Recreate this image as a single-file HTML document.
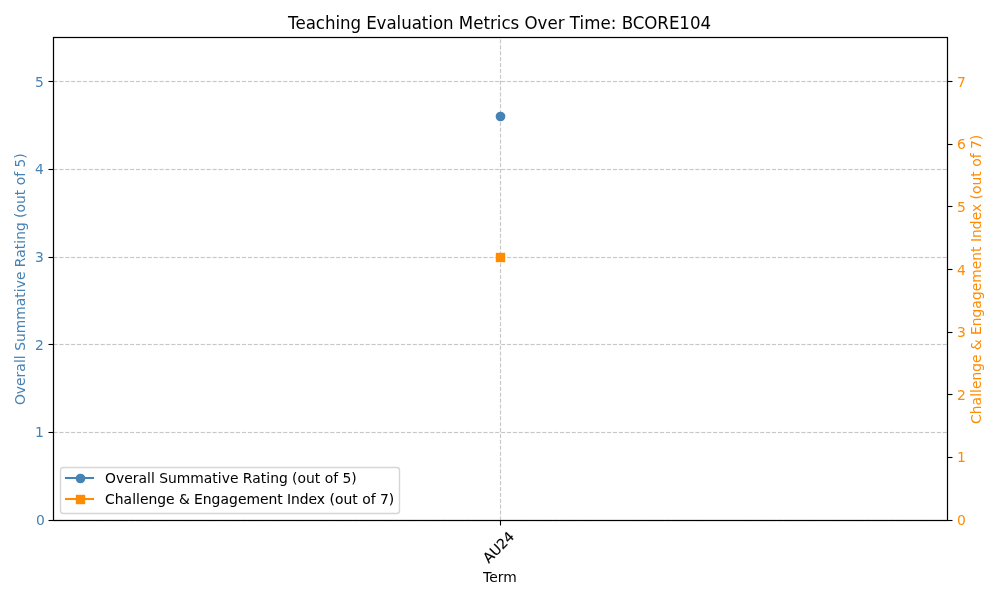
<!DOCTYPE html>
<html lang="en">
<head>
<meta charset="utf-8">
<title>Teaching Evaluation Metrics Over Time: BCORE104</title>
<style>
html,body{margin:0;padding:0;background:#fff;}
body{width:1000px;height:600px;overflow:hidden;font-family:"DejaVu Sans","Liberation Sans",sans-serif;}
svg{display:block;}
</style>
</head>
<body>
<svg width="1000" height="600" viewBox="0 0 1000 600" font-family="'DejaVu Sans', 'Liberation Sans', sans-serif">
<rect x="0" y="0" width="1000" height="600" fill="#ffffff"/>
<g fill="none" stroke="#fbfbfb" stroke-width="3" stroke-dasharray="4.111 1.778">
<path d="M500.5 520.5V37.5"/>
<path d="M53.5 520.5H947.5"/>
<path d="M53.5 432.5H947.5"/>
<path d="M53.5 344.5H947.5"/>
<path d="M53.5 257.5H947.5"/>
<path d="M53.5 169.5H947.5"/>
<path d="M53.5 81.5H947.5"/>
</g>
<g fill="none" stroke="#c7c7c7" stroke-width="1" stroke-dasharray="4.111 1.778">
<path d="M500.5 520.5V37.5"/>
<path d="M53.5 520.5H947.5"/>
<path d="M53.5 432.5H947.5"/>
<path d="M53.5 344.5H947.5"/>
<path d="M53.5 257.5H947.5"/>
<path d="M53.5 169.5H947.5"/>
<path d="M53.5 81.5H947.5"/>
</g>
<g fill="none" stroke="#000000" stroke-width="1.111">
<path d="M500.5 520.5v5.0"/>
<path d="M53.5 520.5h-5.0"/>
<path d="M53.5 432.5h-5.0"/>
<path d="M53.5 344.5h-5.0"/>
<path d="M53.5 257.5h-5.0"/>
<path d="M53.5 169.5h-5.0"/>
<path d="M53.5 81.5h-5.0"/>
<path d="M947.5 520.5h5.0"/>
<path d="M947.5 457.5h5.0"/>
<path d="M947.5 394.5h5.0"/>
<path d="M947.5 332.5h5.0"/>
<path d="M947.5 269.5h5.0"/>
<path d="M947.5 206.5h5.0"/>
<path d="M947.5 144.5h5.0"/>
<path d="M947.5 81.5h5.0"/>
</g>
<text id="L0" font-size="13.889px" fill="#4682b4" transform="translate(43.43 524.71) scale(1.000 1.040)" xml:space="preserve"><tspan x="-7.45">0</tspan></text>
<text id="L1" font-size="13.889px" fill="#4682b4" transform="translate(43.43 436.70) scale(1.000 1.040)" xml:space="preserve"><tspan x="-8.40">1</tspan></text>
<text id="L2" font-size="13.889px" fill="#4682b4" transform="translate(43.43 349.68) scale(1.000 1.020)" xml:space="preserve"><tspan x="-8.36">2</tspan></text>
<text id="L3" font-size="13.889px" fill="#4682b4" transform="translate(43.43 261.50) scale(1.000 1.020)" xml:space="preserve"><tspan x="-8.40">3</tspan></text>
<text id="L4" font-size="13.889px" fill="#4682b4" transform="translate(43.43 173.64) scale(1.000 1.040)" xml:space="preserve"><tspan x="-8.37">4</tspan></text>
<text id="L5" font-size="13.889px" fill="#4682b4" transform="translate(43.43 86.71) scale(1.000 1.020)" xml:space="preserve"><tspan x="-8.46">5</tspan></text>
<text id="R0" font-size="13.889px" fill="#ff8c00" transform="translate(956.57 524.72) scale(1.000 1.040)" xml:space="preserve"><tspan x="0.38">0</tspan></text>
<text id="R1" font-size="13.889px" fill="#ff8c00" transform="translate(956.57 461.50)" xml:space="preserve"><tspan x="0.43">1</tspan></text>
<text id="R2" font-size="13.889px" fill="#ff8c00" transform="translate(956.57 399.65) scale(1.000 1.020)" xml:space="preserve"><tspan x="0.38">2</tspan></text>
<text id="R3" font-size="13.889px" fill="#ff8c00" transform="translate(956.57 336.66) scale(1.000 1.020)" xml:space="preserve"><tspan x="0.42">3</tspan></text>
<text id="R4" font-size="13.889px" fill="#ff8c00" transform="translate(956.57 274.61) scale(1.000 1.040)" xml:space="preserve"><tspan x="0.41">4</tspan></text>
<text id="R5" font-size="13.889px" fill="#ff8c00" transform="translate(956.57 211.71) scale(1.000 1.020)" xml:space="preserve"><tspan x="0.37">5</tspan></text>
<text id="R6" font-size="13.889px" fill="#ff8c00" transform="translate(956.57 148.62) scale(1.000 1.040)" xml:space="preserve"><tspan x="0.40">6</tspan></text>
<text id="R7" font-size="13.889px" fill="#ff8c00" transform="translate(956.57 86.70) scale(1.000 1.040)" xml:space="preserve"><tspan x="0.31">7</tspan></text>
<text id="ylabelL" font-size="13.889px" fill="#4682b4" transform="translate(24.74 278.45) rotate(-90)" xml:space="preserve"><tspan x="-126.62 -115.75 -107.50 -99.00 -93.25 -84.62 -80.75">Overall </tspan><tspan x="-72.32 -63.57 -54.82 -41.32 -27.82 -19.20 -13.70 -9.82 -1.57">Summative </tspan><tspan x="11.23 20.60 29.23 34.73 38.60 47.35">Rating </tspan><tspan x="60.39 65.89 74.39 83.14">(out </tspan><tspan x="93.24 101.74">of </tspan><tspan x="110.83 119.58">5)</tspan></text>
<text id="ylabelR" font-size="13.889px" fill="#ff8c00" transform="translate(980.57 278.45) rotate(-90) scale(1.000 1.060)" xml:space="preserve"><tspan x="-145.48 -135.73 -126.98 -118.35 -114.48 -110.60 -102.10 -93.35 -84.48">Challenge </tspan><tspan x="-71.78">&amp; </tspan><tspan x="-56.60 -47.85 -39.10 -30.23 -21.60 -12.73 -4.23 9.27 17.77 26.52">Engagement </tspan><tspan x="36.49 40.49 49.24 58.12 66.37">Index </tspan><tspan x="78.89 84.39 92.89 101.64">(out </tspan><tspan x="111.63 120.13">of </tspan><tspan x="129.57 138.32">7)</tspan></text>
<text id="term" font-size="13.889px" fill="#000000" transform="translate(500.00 581.63) scale(1.000 1.040)" xml:space="preserve"><tspan x="-16.91 -10.78 -2.28 3.22">Term</tspan></text>
<text id="au24" font-size="13.889px" fill="#000000" stroke="#000000" stroke-width="0.15" transform="translate(488.75 563.82) rotate(-45)" xml:space="preserve"><tspan x="0.00 9.50 19.62 28.38">AU24</tspan></text>
<text id="title" font-size="16.667px" fill="#000000" transform="translate(500.00 28.59) scale(1.000 1.040)" xml:space="preserve"><tspan x="-211.95 -204.58 -194.33 -184.20 -175.08 -164.58 -159.95 -149.45">Teaching </tspan><tspan x="-133.82 -123.45 -113.57 -103.45 -98.82 -88.32 -78.20 -71.70 -67.07 -56.95">Evaluation </tspan><tspan x="-41.19 -26.81 -16.56 -10.06 -3.19 1.44 10.56">Metrics </tspan><tspan x="24.54 37.54 47.42 57.67">Over </tspan><tspan x="69.79 79.54 84.16 100.41 110.66">Time: </tspan><tspan x="121.72 132.85 144.35 157.35 168.97 179.35 189.97 200.47">BCORE104</tspan></text>
<circle cx="500.5" cy="116.5" r="4.86" fill="#4682b4"/>
<rect x="53.5" y="37.5" width="894.0" height="483.0" fill="none" stroke="#000000" stroke-width="1.22"/>
<rect x="60.5" y="467.5" width="339" height="46" rx="2.78" ry="2.78" fill="#ffffff" stroke="#cccccc" stroke-width="1.389" opacity="0.8"/>
<path d="M64.95 478H94.05" stroke="#4682b4" stroke-width="2.083" fill="none"/>
<circle cx="80.5" cy="478.5" r="4.86" fill="#4682b4"/>
<text id="leg1" font-size="13.889px" fill="#000000" transform="translate(104.54 482.69) scale(1.000 1.020)" xml:space="preserve"><tspan x="0.50 11.37 19.62 28.12 33.87 42.50 46.37">Overall </tspan><tspan x="54.64 63.39 72.14 85.64 99.14 107.77 113.27 117.14 125.39">Summative </tspan><tspan x="138.33 147.70 156.33 161.83 165.70 174.45">Rating </tspan><tspan x="187.35 192.85 201.35 210.10">(out </tspan><tspan x="220.25 228.75">of </tspan><tspan x="237.85 246.60">5)</tspan></text>
<path d="M64.95 499H94.05" stroke="#ff8c00" stroke-width="2.083" fill="none"/>
<rect x="75.8" y="494.8" width="9.4" height="9.4" fill="#ff8c00"/>
<text id="leg2" font-size="13.889px" fill="#000000" stroke="#000000" stroke-width="0.05" transform="translate(104.54 503.52) scale(1.000 1.020)" xml:space="preserve"><tspan x="0.54 10.29 19.04 27.66 31.54 35.41 43.91 52.66 61.54">Challenge </tspan><tspan x="74.35">&amp; </tspan><tspan x="89.56 98.31 107.06 115.94 124.56 133.44 141.94 155.44 163.94 172.69">Engagement </tspan><tspan x="182.43 186.43 195.18 204.06 212.31">Index </tspan><tspan x="224.96 230.46 238.96 247.71">(out </tspan><tspan x="257.68 266.18">of </tspan><tspan x="275.54 284.29">7)</tspan></text>
<rect x="495.8" y="252.8" width="9.4" height="9.4" fill="#ff8c00"/>
</svg>
</body>
</html>
